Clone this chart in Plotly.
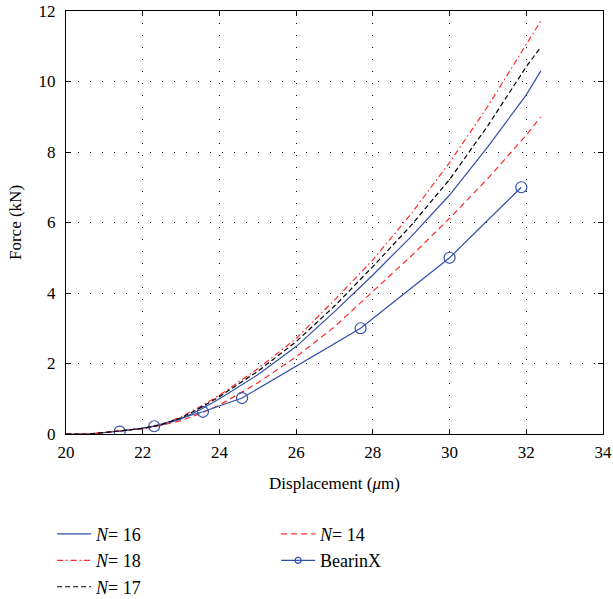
import plotly.graph_objects as go

x_fem = [20, 20.6, 21, 21.5, 22, 22.5, 23, 23.5, 24, 25, 26, 27, 28, 29, 30, 31, 32, 32.38]
n16 = [0, 0.0, 0.04, 0.09, 0.16, 0.26, 0.43, 0.69, 1.00, 1.68, 2.48, 3.47, 4.51, 5.6, 6.78, 8.15, 9.62, 10.3]
n18 = [0, 0.0, 0.04, 0.09, 0.16, 0.28, 0.48, 0.78, 1.10, 1.85, 2.71, 3.80, 4.94, 6.25, 7.7, 9.3, 11.05, 11.72]
n17 = [0, 0.0, 0.04, 0.09, 0.16, 0.27, 0.46, 0.74, 1.06, 1.78, 2.62, 3.63, 4.75, 5.92, 7.22, 8.75, 10.42, 10.98]
n14 = [0, 0.0, 0.04, 0.09, 0.15, 0.25, 0.38, 0.58, 0.82, 1.45, 2.19, 3.04, 4.04, 5.05, 6.12, 7.25, 8.48, 9.0]

x_bx = [21.4, 22.3, 23.57, 24.59, 27.68, 30.0, 31.87]
y_bx = [0.07, 0.22, 0.63, 1.02, 3.0, 5.0, 7.0]

x_ticks = [20, 22, 24, 26, 28, 30, 32, 34]
y_ticks = [0, 2, 4, 6, 8, 10, 12]

BLUE = "#3050A8"
RED = "#FF2A2A"
FONT = "Liberation Serif, Times New Roman, serif"

fig = go.Figure()
fig.add_trace(go.Scatter(x=x_fem, y=n16, mode="lines", name="<i>N</i>= 16",
                         line=dict(color=BLUE, width=1.2)))
fig.add_trace(go.Scatter(x=x_fem, y=n14, mode="lines", name="<i>N</i>= 14",
                         line=dict(color=RED, width=1.2, dash="6px,4px")))
fig.add_trace(go.Scatter(x=x_fem, y=n18, mode="lines", name="<i>N</i>= 18",
                         line=dict(color=RED, width=1.2, dash="6px,3px,1.5px,3px")))
fig.add_trace(go.Scatter(x=x_bx, y=y_bx, mode="lines+markers", name="BearinX",
                         showlegend=False,
                         line=dict(color=BLUE, width=1.2),
                         marker=dict(symbol="circle-open", size=11, color=BLUE,
                                     line=dict(width=1.2, color=BLUE))))
# legend-only entry for BearinX (smaller marker, as in the reference legend)
fig.add_trace(go.Scatter(x=[None], y=[None], mode="lines+markers", name="BearinX",
                         line=dict(color=BLUE, width=1.2),
                         marker=dict(symbol="circle-open", size=6, color=BLUE,
                                     line=dict(width=1.2, color=BLUE))))
fig.add_trace(go.Scatter(x=x_fem, y=n17, mode="lines", name="<i>N</i>= 17",
                         line=dict(color="black", width=1.2, dash="5px,3px")))

axis_common = dict(
    showline=True, linecolor="black", linewidth=1.3, mirror="allticks",
    ticks="inside", ticklen=5, tickcolor="black", tickwidth=1,
    showgrid=True, gridcolor="black", gridwidth=1, griddash="1px,11px",
    zeroline=False, automargin=False,
    tickfont=dict(family=FONT, size=17, color="black"),
)

fig.update_xaxes(range=[20, 34], tickvals=x_ticks, ticklabelstandoff=2,
                 title=dict(text="Displacement (<i>μ</i>m)", standoff=16,
                            font=dict(family=FONT, size=17, color="black")),
                 **axis_common)
fig.update_yaxes(range=[0, 12], tickvals=y_ticks, ticklabelstandoff=6,
                 title=dict(text="Force (kN)", standoff=12,
                            font=dict(family=FONT, size=17, color="black")),
                 **axis_common)

fig.update_layout(
    width=613, height=599,
    margin=dict(l=66, r=10, t=11, b=165),
    paper_bgcolor="white", plot_bgcolor="white",
    showlegend=True,
    legend=dict(orientation="h", xref="container", yref="container",
                x=0.085, xanchor="left", y=0.139, yanchor="top",
                entrywidth=175, entrywidthmode="pixels", itemwidth=34,
                font=dict(family=FONT, size=18, color="black"),
                bgcolor="rgba(0,0,0,0)", tracegroupgap=0),
)

fig.write_html("out.html", config={"displayModeBar": False},
               post_script="document.body.style.margin='0px';")
